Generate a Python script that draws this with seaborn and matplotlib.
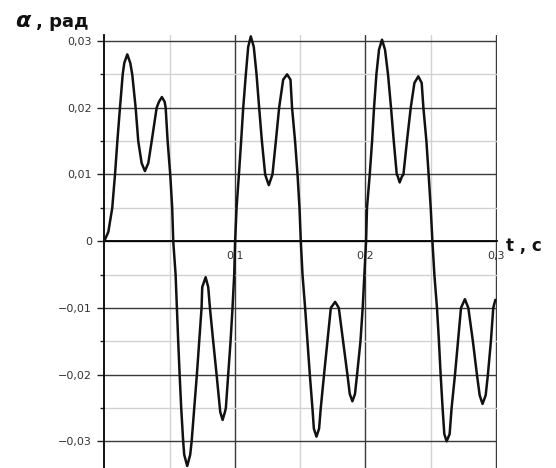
import matplotlib
matplotlib.use("Agg")
import matplotlib.pyplot as plt
import numpy as np
import pandas as pd
import seaborn as sns
from matplotlib.ticker import FixedLocator, FuncFormatter

# ---- data ----
t_values = [
    0.0000, 0.0031, 0.0061, 0.0082, 0.0100, 0.0120, 0.0141, 0.0153, 0.0176, 0.0199,
    0.0214, 0.0240, 0.0260, 0.0286, 0.0311, 0.0337, 0.0363, 0.0401, 0.0419, 0.0441,
    0.0462, 0.0470, 0.0485, 0.0505, 0.0520, 0.0528, 0.0546, 0.0556, 0.0566, 0.0577,
    0.0589, 0.0604, 0.0612, 0.0635, 0.0658, 0.0669, 0.0689, 0.0709, 0.0727, 0.0745,
    0.0750, 0.0776, 0.0796, 0.0809, 0.0834, 0.0860, 0.0885, 0.0888, 0.0906, 0.0924,
    0.0931, 0.0949, 0.0967, 0.0982, 0.0995, 0.1002,
    0.1013, 0.1031, 0.1048, 0.1064, 0.1084, 0.1102, 0.1122, 0.1145, 0.1166, 0.1186,
    0.1207, 0.1232, 0.1242, 0.1260, 0.1278, 0.1288, 0.1314, 0.1339, 0.1370, 0.1400,
    0.1426, 0.1438, 0.1461, 0.1480, 0.1495, 0.1505, 0.1518, 0.1538, 0.1556, 0.1574,
    0.1594, 0.1605, 0.1625, 0.1645, 0.1658, 0.1683, 0.1709, 0.1735, 0.1768, 0.1796,
    0.1829, 0.1862, 0.1880, 0.1900, 0.1920, 0.1936, 0.1962, 0.1979, 0.1992, 0.2005,
    0.2012, 0.2033, 0.2051, 0.2066, 0.2084, 0.2104, 0.2127, 0.2150, 0.2173, 0.2196,
    0.2217, 0.2240, 0.2248, 0.2262, 0.2280, 0.2291, 0.2318, 0.2347, 0.2375, 0.2405,
    0.2431, 0.2444, 0.2467, 0.2484, 0.2500, 0.2513, 0.2528, 0.2548, 0.2563, 0.2576,
    0.2591, 0.2604, 0.2622, 0.2645, 0.2660, 0.2686, 0.2709, 0.2732, 0.2762, 0.2788,
    0.2823, 0.2854, 0.2875, 0.2897, 0.2921, 0.2938, 0.2961, 0.2979, 0.2995,
]
alpha_values = [
    0.0000, 0.0014, 0.0050, 0.0100, 0.0150, 0.0200, 0.0250, 0.0267, 0.0280, 0.0267,
    0.0250, 0.0200, 0.0150, 0.0117, 0.0105, 0.0117, 0.0150, 0.0200, 0.0209, 0.0216,
    0.0209, 0.0200, 0.0150, 0.0100, 0.0050, 0.0000, -0.0050, -0.0100, -0.0150, -0.0200,
    -0.0250, -0.0300, -0.0320, -0.0337, -0.0320, -0.0300, -0.0250, -0.0200, -0.0150, -0.0100,
    -0.0069, -0.0054, -0.0069, -0.0100, -0.0150, -0.0200, -0.0250, -0.0256, -0.0268, -0.0256,
    -0.0250, -0.0200, -0.0150, -0.0100, -0.0050, 0.0000,
    0.0050, 0.0100, 0.0150, 0.0200, 0.0250, 0.0291, 0.0307, 0.0291, 0.0250, 0.0200,
    0.0150, 0.0100, 0.0094, 0.0084, 0.0094, 0.0100, 0.0150, 0.0200, 0.0242, 0.0250,
    0.0242, 0.0200, 0.0150, 0.0100, 0.0050, 0.0000, -0.0050, -0.0100, -0.0150, -0.0200,
    -0.0250, -0.0281, -0.0293, -0.0281, -0.0250, -0.0200, -0.0150, -0.0100, -0.0091, -0.0100,
    -0.0150, -0.0200, -0.0229, -0.0240, -0.0229, -0.0200, -0.0150, -0.0100, -0.0050, 0.0000,
    0.0050, 0.0100, 0.0150, 0.0200, 0.0250, 0.0287, 0.0302, 0.0287, 0.0250, 0.0200,
    0.0150, 0.0100, 0.0097, 0.0088, 0.0097, 0.0100, 0.0150, 0.0200, 0.0237, 0.0247,
    0.0237, 0.0200, 0.0150, 0.0100, 0.0050, 0.0000, -0.0050, -0.0100, -0.0150, -0.0200,
    -0.0250, -0.0289, -0.0300, -0.0289, -0.0250, -0.0200, -0.0150, -0.0100, -0.0087, -0.0100,
    -0.0150, -0.0200, -0.0231, -0.0244, -0.0231, -0.0200, -0.0150, -0.0100, -0.0088,
]
y_major = [-0.03, -0.02, -0.01, 0.0, 0.01, 0.02, 0.03]
y_minor = [-0.025, -0.015, -0.005, 0.005, 0.015, 0.025]
x_major = [0.1, 0.2, 0.3]
x_labels = ["0,1", "0,2", "0,3"]
x_minor = [0.05, 0.15, 0.25]
y_title = "α"
y_unit = ", рад"
x_title = "t , c"

sns.set_theme(style="white")
plt.rcParams["font.family"] = ["DejaVu Sans"]

W, H = 556, 468
fig = plt.figure(figsize=(W / 100, H / 100), dpi=100)
fig.patch.set_facecolor("white")
ax = fig.add_axes([104.3 / W, 0.0, 393 / W, 433 / H])
ax.set_facecolor("white")

df = pd.DataFrame({"t": t_values, "alpha": alpha_values})
sns.lineplot(data=df, x="t", y="alpha", sort=False, estimator=None,
             color="#111111", linewidth=1.8, ax=ax, zorder=5)

ax.set_xlim(0, 0.301)
ax.set_ylim(-0.034, 0.0309)

ax.xaxis.set_major_locator(FixedLocator(x_major))
ax.xaxis.set_minor_locator(FixedLocator(x_minor))
ax.set_xticklabels(x_labels)
ax.yaxis.set_major_locator(FixedLocator(y_major))
ax.yaxis.set_minor_locator(FixedLocator(y_minor))


def yfmt(v, pos):
    if abs(v) < 1e-9:
        return "0"
    return f"{v:.2f}".replace(".", ",").replace("-", "\u2212")


ax.yaxis.set_major_formatter(FuncFormatter(yfmt))

ax.grid(which="major", color="#3a3a3a", linewidth=1.0, zorder=1)
ax.grid(which="minor", color="#d2d2d2", linewidth=1.0, zorder=0)
ax.set_axisbelow(True)

for s in ["top", "right"]:
    ax.spines[s].set_visible(False)
ax.spines["left"].set_position(("data", 0))
ax.spines["left"].set_color("#000000")
ax.spines["left"].set_linewidth(1.3)
ax.spines["bottom"].set_position(("data", 0))
ax.spines["bottom"].set_color("#000000")
ax.spines["bottom"].set_linewidth(1.3)

ax.tick_params(axis="y", which="major", left=True, direction="out", length=5,
               width=1, color="#222222", labelsize=8, labelcolor="#333333", pad=4)
ax.tick_params(axis="y", which="minor", left=True, direction="out", length=3,
               width=1, color="#222222")
ax.tick_params(axis="x", which="both", bottom=False, length=0, labelsize=8,
               labelcolor="#333333", pad=7)
ax.set_xlabel("")
ax.set_ylabel("")

fig.text(15 / W, 1 - 27 / H, y_title, fontsize=16, fontweight="bold",
         style="italic", va="baseline", ha="left", color="#111111")
fig.text(36 / W, 1 - 27 / H, y_unit, fontsize=13, fontweight="bold",
         va="baseline", ha="left", color="#111111")
fig.text(506 / W, 1 - 251 / H, x_title, fontsize=12, fontweight="bold",
         va="baseline", ha="left", color="#111111")

fig.savefig("out.png", dpi=100)
